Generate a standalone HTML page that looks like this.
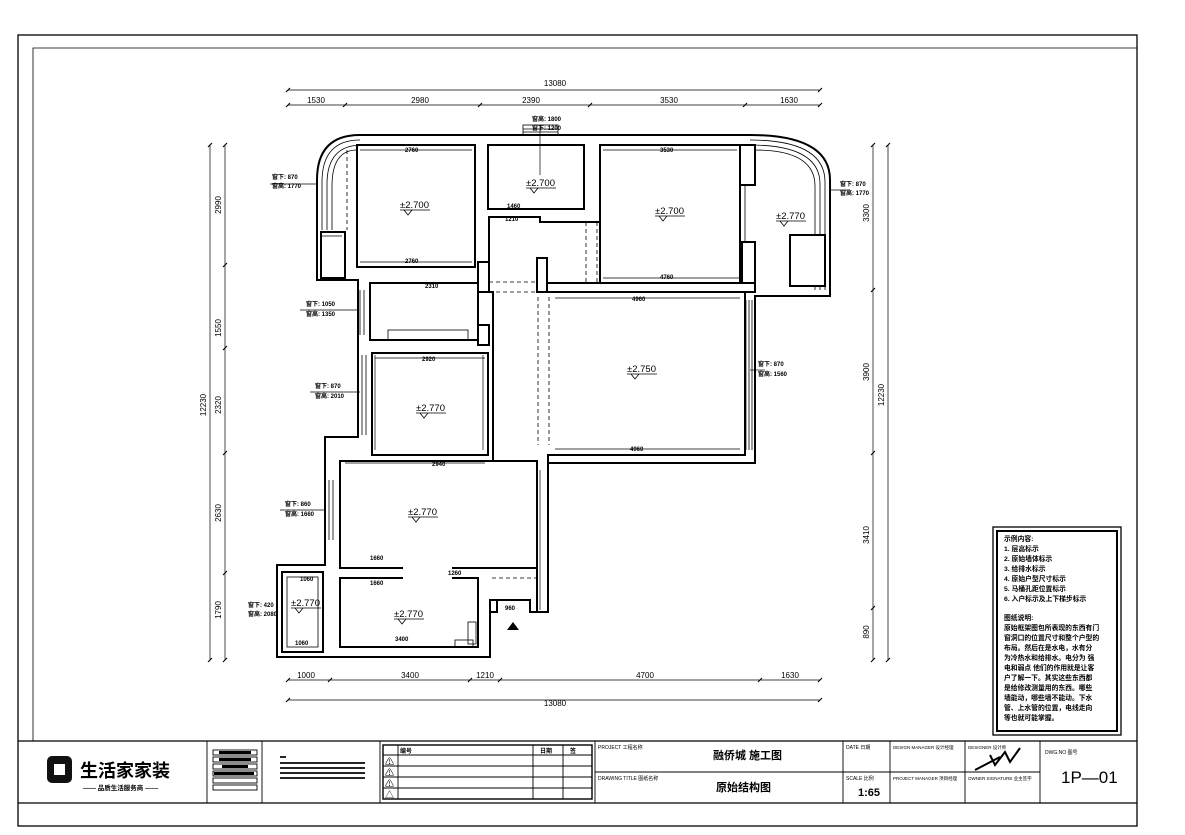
<!DOCTYPE html>
<html><head><meta charset="utf-8"><style>
html,body{margin:0;padding:0;background:#fff;}
svg{display:block;font-family:"Liberation Sans","Noto Sans CJK SC",sans-serif;}
.w{fill:#fff;stroke:#000;stroke-width:2}
.t{fill:none;stroke:#000;stroke-width:0.8}
.d{fill:none;stroke:#000;stroke-width:0.8;stroke-dasharray:4 3}
.dim{fill:none;stroke:#000;stroke-width:0.7}
.s{font-size:6px;font-weight:bold}
.m{font-size:8px}
.el{font-size:9.5px}
</style></head><body>
<svg width="1185" height="835" viewBox="0 0 1185 835">
<rect x="18" y="35" width="1119" height="791" fill="none" stroke="#000" stroke-width="1.3"/>
<polyline points="33,741 33,48 1137,48" fill="none" stroke="#000" stroke-width="0.8"/>
<line x1="18" y1="741" x2="1137" y2="741" stroke="#000" stroke-width="1.3"/>
<line x1="18" y1="803" x2="1137" y2="803" stroke="#000" stroke-width="1.3"/>
<g stroke="#000" stroke-width="0.9" fill="none">
<line x1="207" y1="741" x2="207" y2="803"/><line x1="262" y1="741" x2="262" y2="803"/>
<line x1="380" y1="741" x2="380" y2="803"/><line x1="595" y1="741" x2="595" y2="803"/>
<line x1="843" y1="741" x2="843" y2="803"/><line x1="890" y1="741" x2="890" y2="803"/>
<line x1="965" y1="741" x2="965" y2="803"/><line x1="1040" y1="741" x2="1040" y2="803"/>
<line x1="595" y1="772" x2="1040" y2="772"/>
<rect x="383" y="745" width="209" height="54" stroke-width="1.4"/>
<line x1="383" y1="755" x2="592" y2="755"/><line x1="383" y1="766" x2="592" y2="766"/>
<line x1="383" y1="777" x2="592" y2="777"/><line x1="383" y1="788" x2="592" y2="788"/>
<line x1="398" y1="745" x2="398" y2="799"/><line x1="533" y1="745" x2="533" y2="799"/><line x1="563" y1="745" x2="563" y2="799"/>
<rect x="213" y="750" width="44" height="5"/><rect x="213" y="757" width="44" height="5"/><rect x="213" y="764" width="44" height="5"/>
<rect x="213" y="771" width="44" height="5"/><rect x="213" y="778" width="44" height="5"/><rect x="213" y="785" width="44" height="5"/>
</g>
<g fill="#000"><rect x="219" y="751" width="32" height="3"/><rect x="219" y="758" width="32" height="3"/><rect x="222" y="765" width="26" height="3"/><rect x="214" y="772" width="40" height="3"/></g>
<g fill="#000" opacity="0.85"><rect x="280" y="762" width="85" height="2"/><rect x="280" y="767" width="85" height="2"/><rect x="280" y="772" width="85" height="2"/><rect x="280" y="777" width="85" height="2"/><rect x="280" y="756" width="6" height="2"/></g>
<g font-size="9">
<text x="385" y="798">△</text><text x="385" y="787">⚠</text><text x="385" y="776">⚠</text><text x="385" y="765">⚠</text>
</g>
<text x="400" y="753" class="s">编号</text><text x="540" y="753" class="s">日期</text><text x="570" y="753" class="s">签</text>
<rect x="47" y="756" width="25" height="27" rx="5" fill="#111"/>
<rect x="54" y="764" width="11" height="11" fill="#fff"/>
<text x="80" y="777" font-size="18" font-weight="bold">生活家家装</text>
<text x="83" y="790" font-size="6.5" font-weight="bold">—— 品质生活服务商 ——</text>
<text x="598" y="749" font-size="5">PROJECT 工程名称</text>
<text x="713" y="759" font-size="11" font-weight="bold">融侨城 施工图</text>
<text x="598" y="780" font-size="5">DRAWING TITLE 图纸名称</text>
<text x="716" y="791" font-size="11" font-weight="bold">原始结构图</text>
<text x="846" y="749" font-size="5">DATE 日期</text>
<text x="846" y="780" font-size="5">SCALE 比例</text>
<text x="858" y="796" font-size="11" font-weight="bold">1:65</text>
<text x="893" y="749" font-size="4.5">DESIGN MANAGER 设计经理</text>
<text x="893" y="780" font-size="4.5">PROJECT MANAGER 项目经理</text>
<text x="968" y="749" font-size="4.5">DESIGNER 设计师</text>
<text x="968" y="780" font-size="4.5">OWNER SIGNATURE 业主签字</text>
<path d="M975,770 L1000,757 M990,755 L995,765 L1005,752 L1010,762 L1020,748" stroke="#000" stroke-width="2" fill="none"/>
<text x="1045" y="754" font-size="5">DWG.NO 图号</text>
<text x="1061" y="783" font-size="17">1P—01</text>
<rect x="993" y="527" width="128" height="208" fill="none" stroke="#000" stroke-width="1.3"/>
<rect x="997" y="531" width="120" height="200" fill="none" stroke="#000" stroke-width="2"/>
<g font-size="6.8" font-weight="bold">
<text x="1004" y="541">示例内容:</text><text x="1004" y="551">1. 层高标示</text><text x="1004" y="561">2. 原始墙体标示</text>
<text x="1004" y="571">3. 给排水标示</text><text x="1004" y="581">4. 原始户型尺寸标示</text><text x="1004" y="591">5. 马桶孔距位置标示</text>
<text x="1004" y="601">6. 入户标示及上下梯步标示</text>
<text x="1004" y="620">图纸说明:</text>
<text x="1004" y="630">原始框架图包所表现的东西有门</text><text x="1004" y="640">窗洞口的位置尺寸和整个户型的</text>
<text x="1004" y="650">布局。然后在是水电，水有分</text><text x="1004" y="660">为冷热水和给排水。电分为 强</text>
<text x="1004" y="670">电和弱点 他们的作用就是让客</text><text x="1004" y="680">户了解一下。其实这些东西都</text>
<text x="1004" y="690">是给修改测量用的东西。哪些</text><text x="1004" y="700">墙能动，哪些墙不能动。下水</text>
<text x="1004" y="710">管、上水管的位置，电线走向</text><text x="1004" y="720">等也就可能掌握。</text>
</g>
<g class="dim">
<line x1="288" y1="90" x2="820" y2="90"/><line x1="288" y1="105" x2="820" y2="105"/>
<line x1="288" y1="680" x2="820" y2="680"/><line x1="288" y1="700" x2="820" y2="700"/>
<line x1="210" y1="145" x2="210" y2="660"/><line x1="225" y1="145" x2="225" y2="660"/>
<line x1="888" y1="145" x2="888" y2="660"/><line x1="873" y1="145" x2="873" y2="660"/>
</g>
<g stroke="#000" stroke-width="1.1">
<path d="M286,92l4,-4M818,92l4,-4M286,107l4,-4M343,107l4,-4M478,107l4,-4M588,107l4,-4M743,107l4,-4M818,107l4,-4"/>
<path d="M286,682l4,-4M328,682l4,-4M468,682l4,-4M498,682l4,-4M758,682l4,-4M818,682l4,-4M286,702l4,-4M818,702l4,-4"/>
<path d="M208,147l4,-4M208,662l4,-4M223,147l4,-4M223,267l4,-4M223,350l4,-4M223,455l4,-4M223,575l4,-4M223,662l4,-4"/>
<path d="M886,147l4,-4M886,662l4,-4M871,147l4,-4M871,292l4,-4M871,455l4,-4M871,610l4,-4M871,662l4,-4"/>
</g>
<g class="m" text-anchor="middle">
<text x="555" y="86">13080</text>
<text x="316" y="103">1530</text><text x="420" y="103">2980</text><text x="531" y="103">2390</text><text x="669" y="103">3530</text><text x="789" y="103">1630</text>
<text x="306" y="678">1000</text><text x="410" y="678">3400</text><text x="485" y="678">1210</text><text x="645" y="678">4700</text><text x="790" y="678">1630</text>
<text x="555" y="706">13080</text>
<text transform="translate(206,405) rotate(-90)">12230</text>
<text transform="translate(221,205) rotate(-90)">2990</text><text transform="translate(221,328) rotate(-90)">1550</text>
<text transform="translate(221,405) rotate(-90)">2320</text><text transform="translate(221,513) rotate(-90)">2630</text><text transform="translate(221,610) rotate(-90)">1790</text>
<text transform="translate(884,395) rotate(-90)">12230</text>
<text transform="translate(869,213) rotate(-90)">3300</text><text transform="translate(869,372) rotate(-90)">3900</text>
<text transform="translate(869,535) rotate(-90)">3410</text><text transform="translate(869,632) rotate(-90)">890</text>
</g>
<path class="w" d="M360,135 L750,135 Q830,135 830,180 L830,296 L755,296 L755,463 L548,463 L548,612 L530,612 L530,600 L497,600 L497,605 L490,605 L490,657 L277,657 L277,565 L325,565 L325,437 L358,437 L358,280 L317,280 L317,180 Q317,135 360,135 Z"/>
<path class="t" d="M322,230 L322,182 Q322,140 360,140 M327,230 L327,184 Q327,145 362,145 M332,230 L332,186 Q332,150 357,150"/>
<path class="t" d="M750,140 Q825,140 825,182 L825,290 M750,145 Q820,145 820,184 L820,290 M755,150 Q815,150 815,186 L815,290"/>
<g class="w">
<rect x="357" y="145" width="118" height="122"/>
<rect x="488" y="145" width="96" height="64"/>
<rect x="600" y="145" width="140" height="138"/>
<polygon points="489,217 540,217 540,222 600,222 600,292 745,292 745,455 548,455 548,612 537,612 537,568 493,568 493,292 489,292"/>
<rect x="370" y="283" width="108" height="57"/>
<rect x="372" y="353" width="116" height="102"/>
<rect x="340" y="461" width="197" height="107"/>
<rect x="340" y="578" width="138" height="69"/>
<rect x="790" y="235" width="35" height="51"/>
<rect x="282" y="572" width="41" height="80"/>
<rect x="321" y="232" width="24" height="46"/>
</g>
<rect x="287" y="577" width="31" height="70" class="t"/>
<g class="w">
<rect x="537" y="283" width="218" height="9"/>
<rect x="537" y="258" width="10" height="34"/>
<rect x="742" y="242" width="13" height="41"/>
<rect x="740" y="145" width="15" height="40"/>
<rect x="478" y="262" width="11" height="30"/>
<rect x="478" y="325" width="11" height="20"/>
<rect x="490" y="600" width="7" height="12"/>
</g>
<rect x="538" y="284" width="8" height="7" fill="#fff"/>
<rect x="403" y="567" width="49" height="12" fill="#fff"/>
<g class="t">
<line x1="749" y1="300" x2="749" y2="450"/><line x1="752" y1="300" x2="752" y2="450"/>
<line x1="329" y1="480" x2="329" y2="540"/><line x1="333" y1="480" x2="333" y2="540"/>
<line x1="362" y1="355" x2="362" y2="435"/><line x1="366" y1="355" x2="366" y2="435"/>
<line x1="360" y1="290" x2="360" y2="335"/><line x1="364" y1="290" x2="364" y2="335"/>
<line x1="745" y1="185" x2="745" y2="242"/>
<line x1="322" y1="236" x2="342" y2="236"/>
<rect x="523" y="125" width="35" height="10"/>
<line x1="523" y1="129" x2="558" y2="129"/><line x1="523" y1="132" x2="558" y2="132"/>
<rect x="388" y="330" width="80" height="10"/>
<rect x="455" y="640" width="18" height="7"/>
<rect x="468" y="622" width="8" height="22"/>
</g>
<g class="d">
<line x1="538" y1="297" x2="538" y2="445"/><line x1="549" y1="297" x2="549" y2="445"/>
<line x1="586" y1="222" x2="586" y2="283"/><line x1="597" y1="222" x2="597" y2="283"/>
<line x1="489" y1="282" x2="537" y2="282"/><line x1="489" y1="292" x2="537" y2="292"/>
<line x1="347" y1="150" x2="347" y2="230"/>
<line x1="492" y1="568" x2="537" y2="568"/><line x1="492" y1="578" x2="537" y2="578"/>
</g>
<g class="el">
<text x="400" y="208">±2.700</text><text x="526" y="186">±2.700</text><text x="655" y="214">±2.700</text>
<text x="776" y="219">±2.770</text><text x="627" y="372">±2.750</text><text x="416" y="411">±2.770</text>
<text x="408" y="515">±2.770</text><text x="394" y="617">±2.770</text><text x="291" y="606">±2.770</text>
</g>
<g class="t">
<path d="M400,210h30M404,210l4,5l4,-5M526,188h30M530,188l4,5l4,-5M655,216h30M659,216l4,5l4,-5M776,221h30M780,221l4,5l4,-5M627,374h30M631,374l4,5l4,-5M416,413h30M420,413l4,5l4,-5M408,517h30M412,517l4,5l4,-5M394,619h30M398,619l4,5l4,-5M291,608h30M295,608l4,5l4,-5"/>
</g>
<polygon points="507,630 513,622 519,630" fill="#000"/>
<g class="s">
<text x="272" y="179">窗下: 870</text><text x="272" y="188">窗高: 1770</text>
<text x="840" y="186">窗下: 870</text><text x="840" y="195">窗高: 1770</text>
<text x="306" y="306">窗下: 1050</text><text x="306" y="316">窗高: 1350</text>
<text x="315" y="388">窗下: 870</text><text x="315" y="398">窗高: 2010</text>
<text x="285" y="506">窗下: 860</text><text x="285" y="516">窗高: 1660</text>
<text x="758" y="366">窗下: 870</text><text x="758" y="376">窗高: 1560</text>
<text x="532" y="121">窗高: 1800</text><text x="532" y="130">窗下: 1200</text>
<text x="248" y="607">窗下: 420</text><text x="248" y="616">窗高: 2080</text>
<text x="405" y="152">2760</text><text x="405" y="263">2760</text><text x="425" y="288">2310</text>
<text x="660" y="152">3530</text><text x="660" y="279">4760</text><text x="632" y="301">4960</text>
<text x="422" y="361">2920</text><text x="432" y="466">2940</text><text x="630" y="451">4960</text>
<text x="370" y="560">1660</text><text x="370" y="585">1660</text><text x="448" y="575">1260</text>
<text x="395" y="641">3400</text><text x="505" y="610">960</text><text x="295" y="645">1060</text>
<text x="507" y="208">1460</text><text x="505" y="221">1210</text><text x="300" y="581">1060</text>
</g>
<g class="dim">
<line x1="360" y1="150" x2="472" y2="150"/><line x1="360" y1="262" x2="472" y2="262"/>
<line x1="603" y1="150" x2="737" y2="150"/><line x1="603" y1="278" x2="740" y2="278"/>
<line x1="555" y1="298" x2="740" y2="298"/><line x1="375" y1="358" x2="485" y2="358"/>
<line x1="345" y1="463" x2="485" y2="463"/><line x1="555" y1="449" x2="740" y2="449"/>
<line x1="375" y1="355" x2="375" y2="450"/><line x1="483" y1="355" x2="483" y2="450"/>
<line x1="746" y1="300" x2="746" y2="450"/><line x1="540" y1="470" x2="540" y2="610"/>
<line x1="270" y1="184" x2="317" y2="184"/><line x1="830" y1="190" x2="850" y2="190"/>
<line x1="300" y1="310" x2="358" y2="310"/><line x1="310" y1="392" x2="360" y2="392"/>
<line x1="280" y1="510" x2="325" y2="510"/><line x1="750" y1="370" x2="765" y2="370"/>
<line x1="540" y1="125" x2="540" y2="175"/>
</g>
</svg>
</body></html>
